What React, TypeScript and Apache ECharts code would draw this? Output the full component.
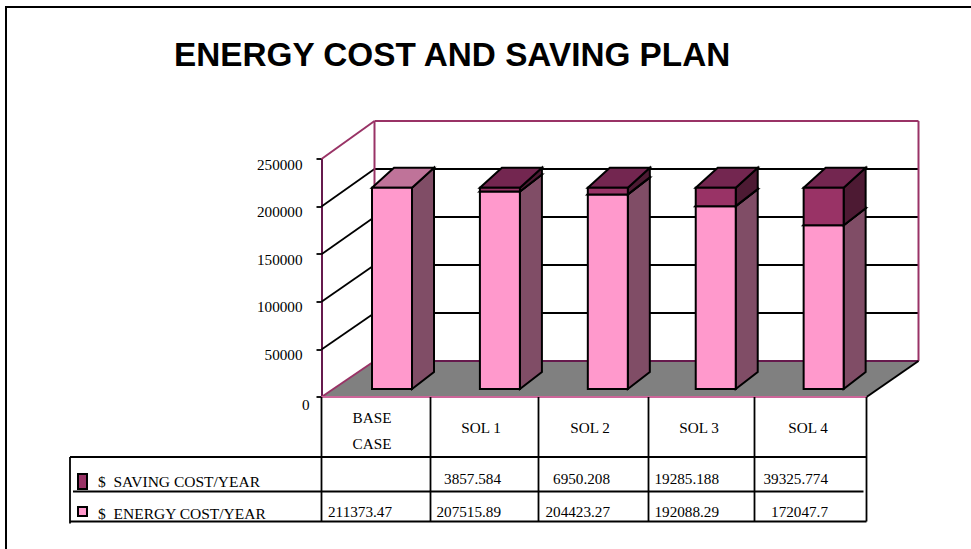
import React, { useEffect, useRef } from "react";
import * as echarts from "echarts";

const categories = ["BASE\nCASE", "SOL 1", "SOL 2", "SOL 3", "SOL 4"];
const energyValues = [211373.47, 207515.89, 204423.27, 192088.29, 172047.7];
const savingValues: (number | null)[] = [null, 3857.584, 6950.208, 19285.188, 39325.774];
const energyLabels = ["211373.47", "207515.89", "204423.27", "192088.29", "172047.7"];
const savingLabels = ["", "3857.584", "6950.208", "19285.188", "39325.774"];
const yTicks = [0, 50000, 100000, 150000, 200000, 250000];
const SAVING = "$  SAVING COST/YEAR";
const ENERGY = "$  ENERGY COST/YEAR";

const SERIF = "'Liberation Serif', serif";
const FS = 15.2;
const WALL_DX = 53;
const BAR_DX = 16;
const BAR_DY = 8;
const BAR_SPREAD = 0.99;
const DEPTH_X = 22;
const DEPTH_Y = 17;
const DEPTH_Y_TOP = 20;
const BAR_W = 40;
const INK = "#000";

const poly = (points: number[][], fill: string | null, stroke = INK, w = 2) => ({
  type: "polygon",
  shape: { points },
  style: { fill: fill ?? "none", stroke, lineWidth: w, lineJoin: "miter" },
});
const seg = (x1: number, y1: number, x2: number, y2: number, stroke = INK, w = 1.8) => ({
  type: "line",
  shape: { x1, y1, x2, y2 },
  style: { stroke, lineWidth: w },
});

function box(
  api: any,
  cat: number,
  lo: number,
  hi: number,
  isTop: boolean,
  front: string,
  side: string,
  top: string
) {
  const [cx0] = api.coord([0, 0]);
  const [cx, yLo] = api.coord([cat, lo]);
  const [, yHi] = api.coord([cat, hi]);
  const x0 = cx0 + (cx - cx0) * BAR_SPREAD + BAR_DX - BAR_W / 2;
  const x1 = x0 + BAR_W;
  const b = yLo - BAR_DY;
  const t = yHi - BAR_DY;
  const tb = t - (isTop ? DEPTH_Y_TOP : DEPTH_Y);
  return {
    type: "group",
    children: [
      poly([[x1, t], [x1 + DEPTH_X, tb], [x1 + DEPTH_X, b - DEPTH_Y], [x1, b]], side),
      poly([[x0, t], [x0 + DEPTH_X, tb], [x1 + DEPTH_X, tb], [x1, t]], top),
      poly([[x0, t], [x1, t], [x1, b], [x0, b]], front),
    ],
  };
}

function renderFrame(params: any, api: any) {
  const c = params.coordSys;
  const left = c.x;
  const right = c.x + c.width;
  const y0 = c.y + c.height;
  const backY = (y: number) => 361 - ((y0 - y) * 240) / c.height;
  const bl = left + WALL_DX;
  const br = right + WALL_DX - 1;
  const wall = "#993366";
  const children: any[] = [];
  yTicks.forEach((v) => {
    const y = api.coord([0, v])[1];
    if (v > 0 && v < yTicks[yTicks.length - 1]) {
      children.push(seg(left, y, bl, backY(y)));
      children.push(seg(bl, backY(y), br, backY(y)));
    }
  });
  const topFront = api.coord([0, yTicks[yTicks.length - 1]])[1];
  const topBack = backY(topFront);
  children.push(seg(left, topFront, bl, topBack, wall, 2));
  children.push(seg(bl, topBack, br, topBack, wall, 2));
  children.push(seg(bl, topBack, bl, 361, wall, 2));
  children.push(seg(br, topBack, br, 361, wall, 2));
  children.push(poly([[left, y0], [right, y0], [br, 361], [bl, 361]], "#808080", "none", 0));
  children.push(seg(bl, 361, br, 361, "#661A4D", 2));
  children.push(seg(left, y0, bl, 361, wall, 2));
  children.push(seg(right, y0, br, 361, INK, 2));
  children.push(seg(left, y0, right, y0, "#CC6699", 2));
  return { type: "group", children };
}

function renderTable(params: any, api: any) {
  const c = params.coordSys;
  const left = c.x;
  const right = c.x + c.width;
  const y0 = c.y + c.height;
  const rowTop = 457;
  const rowMid = 491.5;
  const rowBottom = 521.5;
  const children: any[] = [];
  const borders = [left, 430.5, 538.5, 648.5, 754.5, right];
  borders.forEach((x) => children.push(seg(x, y0, x, rowBottom)));
  children.push(seg(70, rowTop, right, rowTop));
  children.push(seg(73, rowMid, right - 3, rowMid));
  children.push(seg(70, rowBottom, right, rowBottom));
  children.push(seg(70, rowTop, 70, rowBottom + 2));
  categories.forEach((_, i) => {
    const x = api.coord([i, 0])[0] + 16;
    const mk = (text: string, y: number) => ({
      type: "text",
      style: { text, x, y, font: `${FS}px ${SERIF}`, fill: "#000", align: "right", verticalAlign: "middle" },
    });
    if (savingLabels[i]) children.push(mk(savingLabels[i], 478.5));
    children.push(mk(energyLabels[i], 511));
  });
  return { type: "group", children };
}

function renderEnergy(_: any, api: any) {
  const cat = api.value(0);
  const hasSaving = savingValues[cat] != null;
  return box(api, cat, 0, api.value(1), !hasSaving, "#FF99CC", "#804D66", hasSaving ? "#732650" : "#BF7399");
}
function renderSaving(_: any, api: any) {
  return box(api, api.value(0), api.value(1), api.value(2), true, "#993366", "#4D1A33", "#732650");
}

export default function App() {
  const ref = useRef<HTMLDivElement>(null);
  useEffect(() => {
    const chart = echarts.init(ref.current!, undefined, { renderer: "svg" });
    chart.setOption({
      animation: false,
      backgroundColor: "#fff",
      title: {
        text: "ENERGY COST AND SAVING PLAN",
        left: 169,
        top: 33,
        textStyle: { fontFamily: "'Liberation Sans', sans-serif", fontWeight: "bold", fontSize: 33.3, color: "#000" },
      },
      legend: {
        orient: "vertical",
        left: 77,
        top: 473,
        itemWidth: 9,
        itemHeight: 15,
        itemGap: 14.5,
        selectedMode: false,
        padding: 0,
        textStyle: { fontFamily: SERIF, fontSize: 15.5, color: "#000", padding: [0, 0, 0, 6] },
        data: [
          { name: SAVING, icon: "rect", itemStyle: { color: "#993366", borderColor: "#000", borderWidth: 2 } },
          { name: ENERGY, icon: "path://M0 1.5H9V10.5H0ZM0 0L0.01 0M0 15L0.01 15", itemStyle: { color: "#FF99CC", borderColor: "#000", borderWidth: 2 } },
        ],
      },
      grid: { left: 321.5, top: 159, width: 545, height: 238, containLabel: false },
      xAxis: {
        type: "category",
        data: categories,
        axisLine: { show: false },
        axisTick: { show: false },
        axisLabel: {
          margin: 33,
          interval: 0,
          verticalAlign: "middle",
          formatter: (v: string) => {
            const parts = v.split("\n");
            return parts.length > 1 ? parts.map((p) => `{m|${p}}`).join("\n") : `{s|${v}}`;
          },
          rich: {
            m: { fontFamily: SERIF, fontSize: FS, color: "#000", lineHeight: 26, padding: [0, 8, 0, 0] },
            s: { fontFamily: SERIF, fontSize: FS, color: "#000", lineHeight: 26, padding: [0, 8, 6, 0] },
          },
        },
      },
      yAxis: {
        type: "value",
        min: 0,
        max: 250000,
        interval: 50000,
        splitLine: { show: false },
        axisLine: { show: true, lineStyle: { color: "#661A4D", width: 2 } },
        axisTick: { show: true, length: 5, lineStyle: { color: "#000", width: 1.8 } },
        axisLabel: {
          margin: 12,
          formatter: (v: number) => (v === 0 ? `{z|0}` : `{n|${v}}`),
          rich: {
            z: { fontFamily: SERIF, fontSize: FS, color: "#000", padding: [14, 0, 0, 0] },
            n: { fontFamily: SERIF, fontSize: FS, color: "#000", padding: [10, 7, 0, 0] },
          },
        },
      },
      graphic: [
        {
          type: "polyline",
          silent: true,
          shape: { points: [[6, 549], [6, 7], [971, 7]] },
          style: { fill: "none", stroke: "#000", lineWidth: 2 },
        },
      ],
      series: [
        {
          type: "custom",
          name: "walls",
          z: 1,
          silent: true,
          renderItem: renderFrame,
          data: [[0, 0]],
          encode: { x: 0, y: 1 },
        },
        {
          type: "custom",
          name: ENERGY,
          z: 3,
          itemStyle: { color: "#FF99CC" },
          renderItem: renderEnergy,
          data: categories.map((_, i) => [i, energyValues[i]]),
          encode: { x: 0, y: 1 },
        },
        {
          type: "custom",
          name: SAVING,
          z: 4,
          itemStyle: { color: "#993366" },
          renderItem: renderSaving,
          data: categories
            .map((_, i) => [i, energyValues[i], energyValues[i] + (savingValues[i] ?? 0)])
            .filter((_, i) => savingValues[i] != null),
          encode: { x: 0, y: [1, 2] },
        },
        {
          type: "custom",
          name: "table",
          z: 2,
          silent: true,
          renderItem: renderTable,
          data: [[0, 0]],
          encode: { x: 0, y: 1 },
        },
      ],
    });
    return () => chart.dispose();
  }, []);
  return <div ref={ref} style={{ position: "fixed", left: 0, top: 0, width: 971, height: 549 }} />;
}
